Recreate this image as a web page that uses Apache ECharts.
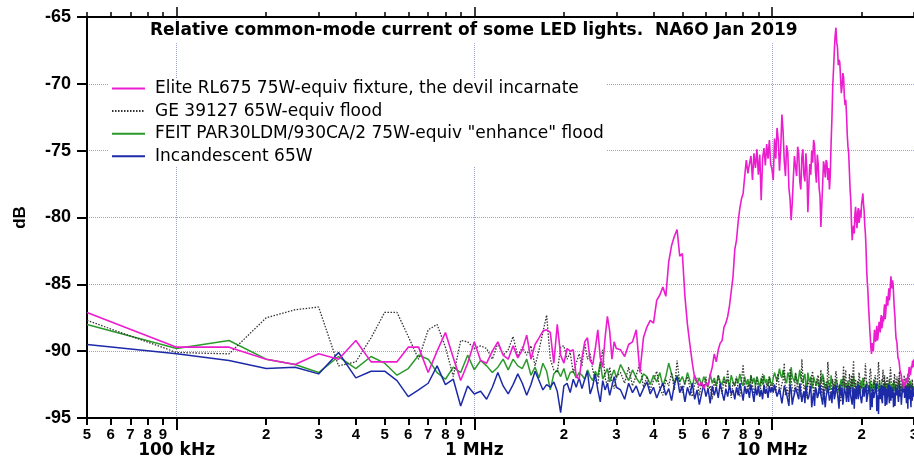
<!DOCTYPE html>
<html><head><meta charset="utf-8">
<script src="https://cdn.jsdelivr.net/npm/echarts@6/dist/echarts.min.js"></script>
<style>html,body{margin:0;padding:0;background:#fff}#c{width:914px;height:461px}</style>
</head><body><div id="c"></div><script>
// Frequencies (MHz) of the sweep points
const freqLowMHz = [0.05,0.1,0.15,0.2,0.25,0.3,0.35,0.4,0.45,0.5,0.55,0.6,0.65,0.7,0.75,0.8,0.85,0.9,0.95,1,
1.05,1.1,1.15,1.2,1.25,1.3,1.35,1.4,1.45,1.5,1.55,1.6,1.65,1.7,1.75,1.8,1.85,1.9,1.95,2,
2.05,2.1,2.15,2.2,2.25,2.3,2.35,2.4,2.45,2.5,2.55,2.6,2.65,2.7,2.75,2.8,2.85,2.9,2.95,3];
const freqMidMHz = [3.1,3.2,3.3,3.4,3.5,3.6,3.7,3.8,3.9,4,4.1,4.2,4.3,4.4,4.5,4.6,4.7,4.8,4.9,5,
5.1,5.2,5.3,5.4,5.5,5.6,5.7,5.8,5.9,6,6.1,6.2,6.3,6.4,6.5,6.6,6.7,6.8,6.9,7,
7.1,7.2,7.3,7.4,7.5,7.6,7.7,7.8,7.9,8,8.1,8.2,8.3,8.4,8.5,8.6,8.7,8.8,8.9,9,
9.1,9.2,9.3,9.4,9.5,9.6,9.7,9.8,9.9,10];
const freqHighMHz = [10.2,10.4,10.6,10.8,11,11.2,11.4,11.6,11.8,12,12.2,12.4,12.6,12.8,13,13.2,13.4,13.6,13.8,14,
14.2,14.4,14.6,14.8,15,15.2,15.4,15.6,15.8,16,16.2,16.4,16.6,16.8,17,17.2,17.4,17.6,17.8,18,
18.2,18.4,18.6,18.8,19,19.2,19.4,19.6,19.8,20,20.2,20.4,20.6,20.8,21,21.2,21.4,21.6,21.8,22,
22.2,22.4,22.6,22.8,23,23.2,23.4,23.6,23.8,24,24.2,24.4,24.6,24.8,25,25.2,25.4,25.6,25.8,26,
26.2,26.4,26.6,26.8,27,27.2,27.4,27.6,27.8,28,28.2,28.4,28.6,28.8,29,29.2,29.4,29.6,29.8,30];
const freqHighOddMHz = [10.1,10.3,10.5,10.7,10.9,11.1,11.3,11.5,11.7,11.9,12.1,12.3,12.5,12.7,12.9,13.1,13.3,13.5,13.7,13.9,
14.1,14.3,14.5,14.7,14.9,15.1,15.3,15.5,15.7,15.9,16.1,16.3,16.5,16.7,16.9,17.1,17.3,17.5,17.7,17.9,
18.1,18.3,18.5,18.7,18.9,19.1,19.3,19.5,19.7,19.9,20.1,20.3,20.5,20.7,20.9,21.1,21.3,21.5,21.7,21.9,
22.1,22.3,22.5,22.7,22.9,23.1,23.3,23.5,23.7,23.9,24.1,24.3,24.5,24.7,24.9,25.1,25.3,25.5,25.7,25.9,
26.1,26.3,26.5,26.7,26.9,27.1,27.3,27.5,27.7,27.9,28.1,28.3,28.5,28.7,28.9,29.1,29.3,29.5,29.7,29.9];

// Elite RL675 (dB)
const eliteLow = [-87.1,-89.7,-89.7,-90.6,-91.0,-90.2,-90.6,-89.2,-90.8,-90.8,-90.8,-89.7,-89.7,-91.6,-90.0,-88.6,-90.5,-92.2,-90.9,-89.3,
-90.7,-90.9,-90.0,-89.3,-90.3,-90.6,-89.6,-90.5,-89.9,-88.8,-90.6,-89.5,-89.0,-88.5,-88.4,-88.6,-90.9,-88.0,-90.3,-90.9,
-89.8,-90.0,-89.9,-91.9,-92.1,-90.5,-89.3,-89.0,-90.7,-91.0,-89.8,-88.4,-90.5,-91.2,-89.0,-87.4,-88.5,-90.6,-89.3,-89.8];
const eliteMid = [-89.9,-90.4,-89.5,-89.3,-88.4,-91.6,-89.0,-88.2,-87.7,-87.9,
-86.2,-85.8,-85.2,-85.9,-83.3,-82.1,-81.4,-80.9,-82.9,-82.7,
-85.9,-88.0,-89.5,-90.9,-92.0,-92.2,-92.6,-92.3,-92.8,-92.4,
-92.6,-91.8,-91.2,-90.2,-90.8,-89.9,-89.4,-89.2,-88.2,-87.9,
-87.4,-86.6,-85.5,-84.4,-82.4,-81.7,-80.3,-79.3,-78.6,-78.2,
-76.9,-75.7,-76.7,-76.0,-75.4,-77.2,-75.2,-76.3,-74.9,-76.8,
-75.3,-78.7,-75.6,-74.8,-76.1,-74.5,-75.6,-74.2,-76.0,-76.4];
const eliteHigh = [-74.1,-73.3,-76.5,-72.3,-75.8,-74.6,-77.8,-80.2,-77.0,-76.2,
-74.7,-77.3,-75.5,-76.8,-75.2,-79.6,-76.0,-75.0,-74.2,-76.5,
-75.3,-77.8,-80.7,-77.5,-76.2,-75.7,-77.2,-77.9,-74.4,-70.2,
-67.5,-65.8,-67.3,-68.2,-69.6,-70.2,-69.5,-71.6,-72.3,-74.7,
-76.5,-78.7,-81.7,-80.6,-79.7,-80.3,-79.6,-80.4,-79.4,-79.0,
-78.2,-79.5,-81.2,-83.9,-85.5,-87.4,-89.0,-90.2,-89.6,-89.2,
-88.8,-88.6,-89.2,-88.4,-88.2,-87.6,-88.3,-87.4,-86.9,-87.6,
-86.6,-86.1,-85.8,-86.2,-85.0,-84.9,-84.7,-85.6,-87.0,-88.4,
-89.2,-90.0,-90.6,-91.0,-91.3,-91.8,-92.2,-92.5,-92.3,-92.6,
-92.0,-92.2,-91.7,-91.5,-91.4,-91.8,-91.1,-90.9,-91.2,-90.6];
const eliteHighOdd = [-77.2,-75.6,-74.2,-74.8,-73.6,-76.9,-75.1,-78.6,-78.9,-75.4,
-76.9,-75.2,-77.9,-74.9,-77.3,-76.4,-77.6,-76.8,-75.9,-74.6,
-77.4,-76.0,-78.4,-79.1,-75.8,-77.0,-75.9,-76.3,-76.8,-72.6,
-68.9,-66.4,-66.9,-68.6,-68.4,-70.7,-69.2,-70.9,-71.2,-73.8,
-75.2,-77.9,-80.5,-80.9,-81.2,-79.2,-80.8,-79.3,-80.1,-80.0,
-78.6,-79.0,-80.6,-82.3,-84.8,-86.6,-88.3,-89.8,-89.4,-90.0,
-88.4,-89.3,-88.1,-89.0,-87.8,-88.6,-87.3,-88.0,-87.8,-86.5,
-87.2,-85.9,-86.6,-85.3,-85.8,-84.4,-85.3,-84.9,-86.4,-87.5,
-89.0,-89.4,-90.5,-90.7,-91.4,-91.5,-92.3,-92.1,-92.8,-92.2,
-92.5,-91.9,-92.4,-91.9,-91.2,-91.6,-91.4,-91.3,-90.7,-91.0];

// GE 39127 (dB)
const geLow = [-87.7,-90.1,-90.2,-87.5,-86.9,-86.7,-91.1,-90.8,-89.0,-87.1,-87.1,-88.9,-90.6,-88.4,-88.0,-89.7,-91.9,-89.2,-89.3,-89.8,
-89.6,-89.8,-90.6,-89.4,-90.3,-89.9,-88.9,-90.4,-89.7,-90.3,-89.6,-91.1,-89.9,-88.6,-87.3,-90.6,-91.4,-91.6,-89.7,-89.6,
-90.6,-90.1,-91.6,-90.9,-90.2,-91.1,-89.4,-90.6,-90.2,-91.4,-92.1,-92.5,-91.0,-89.9,-92.0,-92.6,-91.2,-92.3,-92.8,-91.9];
const geMid = [-91.6,-92.4,-91.2,-92.6,-91.8,-90.9,-92.7,-91.9,-92.9,-92.2,
-91.5,-92.8,-93.3,-92.1,-92.6,-91.6,-92.9,-90.7,-92.4,-93.1,
-92.3,-91.9,-92.7,-93.4,-92.5,-92.0,-93.3,-92.4,-92.8,-91.9,
-93.0,-92.6,-93.6,-92.2,-92.9,-91.8,-92.5,-93.2,-92.1,-92.7,
-91.4,-92.8,-93.5,-92.3,-92.6,-91.9,-92.9,-93.4,-92.2,-91.0,
-92.7,-93.1,-92.4,-92.9,-91.8,-92.5,-93.3,-92.6,-92.0,-92.8,
-93.4,-92.3,-91.7,-92.9,-93.2,-92.4,-92.8,-91.9,-92.6,-93.0];
const geHigh = [-92.8,-91.9,-93.2,-92.4,-90.9,-92.7,-93.4,-92.1,-92.9,-91.6,
-93.1,-92.5,-90.6,-92.8,-93.5,-92.2,-92.9,-91.8,-93.3,-92.6,
-92.0,-93.2,-91.4,-92.7,-93.6,-92.3,-90.8,-92.9,-93.4,-92.1,
-92.8,-91.5,-93.2,-92.6,-93.8,-92.4,-91.1,-92.9,-93.3,-92.5,
-91.7,-93.0,-92.6,-90.7,-92.8,-93.5,-92.2,-91.6,-93.1,-92.7,
-93.4,-92.0,-90.9,-92.6,-93.2,-92.4,-91.3,-92.9,-93.6,-92.3,
-91.8,-93.1,-92.5,-90.8,-92.7,-93.3,-92.1,-91.4,-92.9,-93.5,
-92.4,-91.9,-93.0,-92.6,-91.2,-92.8,-93.4,-92.2,-91.7,-93.1,
-92.5,-93.3,-92.0,-91.5,-92.8,-93.6,-92.3,-92.9,-91.8,-93.2,
-92.6,-93.0,-92.2,-91.6,-92.9,-93.4,-92.5,-92.1,-93.1,-92.7];
const geHighOdd = [-92.4,-93.1,-91.7,-92.9,-92.2,-93.3,-92.6,-91.3,-92.8,-93.2,
-92.1,-92.7,-93.4,-91.9,-92.6,-93.1,-92.4,-92.9,-91.5,-93.0,
-92.7,-91.8,-92.9,-93.3,-92.0,-92.6,-93.1,-91.6,-92.8,-92.4,
-93.2,-92.1,-91.9,-93.0,-92.5,-93.4,-92.2,-92.8,-91.4,-92.9,
-93.2,-92.3,-91.8,-92.7,-93.3,-92.1,-92.9,-93.0,-91.9,-92.6,
-92.8,-93.5,-92.2,-91.7,-92.9,-93.1,-92.4,-91.6,-92.8,-93.2,
-92.5,-92.0,-93.3,-92.6,-91.5,-92.9,-93.1,-92.3,-92.7,-91.8,
-93.0,-92.5,-92.2,-93.4,-92.7,-91.6,-92.9,-93.2,-92.4,-92.0,
-92.8,-91.9,-93.3,-92.5,-92.1,-92.9,-93.5,-92.4,-92.7,-91.7,
-93.0,-92.6,-92.3,-92.9,-91.8,-93.2,-92.5,-92.8,-92.2,-93.0];

// FEIT PAR30LDM (dB)
const feitLow = [-88.0,-89.8,-89.2,-90.6,-91.0,-91.6,-90.4,-91.3,-90.4,-90.9,-91.8,-91.3,-90.3,-90.6,-91.6,-92.1,-91.2,-91.6,-90.3,-91.4,
-90.7,-91.1,-91.6,-91.2,-90.6,-91.4,-90.6,-91.1,-91.3,-90.6,-91.8,-91.2,-92.0,-90.9,-91.5,-92.9,-91.7,-91.4,-91.9,-91.3,
-92.2,-91.6,-91.5,-92.0,-91.6,-91.8,-92.1,-91.4,-91.9,-92.2,-91.5,-91.9,-90.8,-92.1,-91.7,-91.3,-92.3,-91.8,-91.4,-92.0];
const feitMid = [-91.0,-91.6,-92.2,-91.4,-92.0,-92.4,-91.7,-91.9,-92.5,-91.8,
-92.3,-91.6,-92.6,-91.9,-90.9,-91.7,-92.4,-91.8,-92.3,-91.9,
-92.5,-91.6,-92.2,-92.7,-91.8,-92.4,-92.0,-92.6,-91.9,-92.3,
-92.7,-91.7,-92.4,-92.0,-92.6,-91.8,-92.3,-92.5,-91.9,-92.4,
-92.1,-92.7,-91.8,-92.3,-92.6,-92.0,-92.4,-91.7,-92.3,-92.6,
-91.9,-92.5,-92.1,-92.7,-91.8,-92.4,-92.0,-92.6,-91.9,-92.3,
-92.7,-92.0,-92.5,-91.8,-92.4,-92.1,-92.6,-91.9,-92.3,-92.6];
const feitHigh = [-91.6,-92.3,-91.3,-92.0,-91.5,-92.4,-91.8,-91.2,-92.1,-91.7,
-92.5,-91.4,-92.2,-91.9,-92.6,-91.6,-92.3,-92.8,-91.9,-92.4,
-92.1,-92.7,-92.0,-91.7,-92.5,-92.9,-92.2,-92.6,-91.8,-92.4,
-92.8,-92.1,-92.5,-93.0,-92.3,-92.7,-91.9,-92.4,-92.8,-92.2,
-92.6,-93.1,-92.4,-91.8,-92.5,-92.9,-92.3,-92.7,-93.2,-92.4,
-92.0,-92.6,-92.9,-92.3,-92.7,-93.0,-92.2,-92.5,-92.8,-92.1,
-92.6,-93.1,-92.4,-92.8,-92.2,-92.6,-93.3,-92.5,-92.9,-92.3,
-92.7,-93.0,-92.4,-92.1,-92.8,-93.2,-92.6,-92.9,-92.3,-92.7,
-93.1,-92.5,-92.8,-92.2,-92.6,-93.0,-92.4,-92.9,-92.6,-92.3,
-92.8,-92.5,-93.1,-92.4,-92.7,-92.2,-92.9,-92.5,-92.8,-92.6];
const feitHighOdd = [-92.0,-91.5,-92.4,-91.8,-91.4,-92.2,-91.6,-92.5,-91.9,-92.3,
-91.8,-92.6,-92.0,-92.4,-91.7,-92.8,-92.1,-91.9,-92.6,-92.2,
-92.6,-92.2,-92.8,-92.3,-92.0,-92.7,-92.4,-92.1,-92.9,-92.3,
-92.5,-92.9,-92.2,-92.6,-92.8,-92.1,-92.6,-93.0,-92.4,-92.7,
-92.9,-92.5,-92.1,-92.8,-92.3,-92.6,-93.1,-92.4,-92.8,-92.2,
-92.7,-92.3,-92.6,-93.0,-92.4,-92.8,-92.6,-93.1,-92.4,-92.7,
-92.9,-92.5,-92.7,-92.3,-93.0,-92.8,-92.5,-92.7,-93.1,-92.6,
-92.9,-92.4,-92.7,-92.9,-92.5,-92.6,-93.0,-92.4,-92.8,-93.0,
-92.6,-92.9,-92.4,-92.7,-93.1,-92.5,-92.8,-92.6,-93.0,-92.7,
-92.5,-92.9,-92.6,-92.8,-92.3,-92.7,-92.6,-93.0,-92.4,-92.7];

// Incandescent 65W (dB)
const incLow = [-89.5,-90.2,-90.7,-91.3,-91.2,-91.7,-90.1,-92.0,-91.5,-91.5,-92.2,-93.4,-92.9,-92.4,-91.1,-92.5,-92.1,-94.1,-92.6,-93.2,
-93.0,-93.6,-92.7,-91.6,-92.6,-93.2,-92.5,-91.7,-92.4,-93.3,-92.5,-91.5,-92.2,-92.9,-92.5,-92.7,-92.3,-93.0,-94.6,-92.6,
-92.4,-93.1,-92.1,-92.7,-92.0,-92.8,-92.1,-91.5,-93.2,-92.6,-91.7,-92.9,-93.8,-92.2,-92.9,-92.4,-93.3,-92.6,-91.9,-92.7];
const incMid = [-92.9,-93.6,-92.4,-93.1,-92.6,-93.4,-92.8,-92.3,-93.2,-92.7,
-93.5,-92.9,-92.4,-93.3,-92.8,-93.7,-92.5,-91.9,-93.1,-92.6,
-93.8,-92.7,-93.3,-92.4,-93.6,-92.9,-94.0,-93.2,-92.5,-93.4,
-92.8,-93.9,-92.6,-93.3,-92.7,-93.5,-92.4,-93.1,-93.7,-92.8,
-93.4,-92.5,-93.2,-92.9,-93.6,-92.7,-93.3,-92.4,-93.0,-93.7,
-92.6,-93.2,-92.8,-93.5,-92.5,-93.1,-93.8,-92.7,-93.3,-92.6,
-93.4,-92.9,-93.6,-92.5,-93.2,-92.8,-93.5,-92.6,-93.1,-92.7];
const incHigh = [-92.5,-93.4,-92.8,-93.9,-92.6,-93.2,-94.1,-92.9,-93.5,-92.7,
-93.3,-92.4,-93.8,-93.0,-92.6,-93.6,-92.9,-94.2,-93.1,-92.7,
-93.5,-92.8,-93.3,-94.0,-92.9,-93.4,-92.6,-93.7,-93.1,-92.8,
-93.6,-92.5,-93.2,-94.3,-93.0,-92.7,-93.5,-92.9,-93.8,-93.2,
-92.6,-93.4,-94.0,-93.1,-92.8,-93.6,-93.0,-92.5,-93.3,-93.9,
-92.9,-93.4,-92.7,-93.8,-93.2,-92.6,-94.4,-93.1,-92.8,-93.5,
-93.0,-92.4,-93.6,-94.7,-93.1,-92.9,-93.7,-92.6,-93.3,-94.1,
-92.8,-93.4,-92.5,-93.9,-93.0,-92.7,-93.5,-94.2,-93.1,-92.6,
-93.3,-92.9,-93.8,-92.5,-93.4,-94.0,-92.8,-93.2,-92.6,-93.6,
-93.1,-92.7,-94.3,-93.0,-92.5,-93.4,-92.9,-93.7,-92.6,-93.2];
const incHighOdd = [-93.1,-92.6,-93.5,-92.9,-93.8,-92.7,-93.3,-92.5,-94.0,-93.2,
-92.8,-93.6,-92.4,-93.3,-93.9,-92.7,-93.4,-92.6,-93.5,-94.1,
-92.9,-93.3,-92.5,-93.6,-92.8,-94.2,-93.1,-92.7,-93.4,-93.9,
-92.6,-93.3,-92.9,-93.7,-92.5,-93.4,-94.0,-92.8,-93.2,-92.6,
-93.8,-92.9,-93.5,-92.7,-94.3,-93.1,-92.6,-93.6,-92.9,-93.3,
-94.0,-92.7,-93.4,-92.5,-93.8,-93.0,-92.8,-93.5,-94.2,-92.9,
-93.2,-92.6,-94.5,-93.3,-92.8,-93.6,-92.5,-93.9,-93.1,-92.7,
-93.5,-94.0,-92.9,-93.3,-92.6,-93.7,-93.0,-92.8,-93.6,-94.1,
-92.7,-93.4,-92.9,-93.8,-92.6,-93.2,-94.0,-93.1,-92.8,-93.5,
-92.6,-93.9,-93.2,-92.7,-93.6,-92.9,-94.2,-93.0,-92.7,-93.4];

// Axis ticks
const minorTicksMHz = [0.05,0.06,0.07,0.08,0.09,0.2,0.3,0.4,0.5,0.6,0.7,0.8,0.9,2,3,4,5,6,7,8,9,20,30];
const minorTickLabels = ['5','6','7','8','9','2','3','4','5','6','7','8','9','2','3','4','5','6','7','8','9','2','3'];
const decadeTicksMHz = [0.1,1,10];
const decadeTickLabels = ['100 kHz','1 MHz','10 MHz'];
const yMin = -95, yMax = -65, yStep = 5;

const seriesNames = ['Elite RL675 75W-equiv fixture, the devil incarnate','GE 39127 65W-equiv flood','FEIT PAR30LDM/930CA/2 75W-equiv "enhance" flood','Incandescent 65W'];

function pairs(fs, vs){ return fs.map((f,i)=>[f, vs[i]]); }
function build(a,b,c,d){
  return pairs(freqLowMHz,a).concat(pairs(freqMidMHz,b), pairs(freqHighMHz,c), pairs(freqHighOddMHz,d))
    .sort((p,q)=>p[0]-q[0]);
}
function labelFor(ticks, labels){
  return function(v){ let best=0, bd=1e9; ticks.forEach((t,i)=>{const d=Math.abs(Math.log(v/t)); if(d<bd){bd=d;best=i;}}); return labels[best]; };
}

const FONT = '"Liberation Sans", Arial, Helvetica, sans-serif';
const WIDE = '"DejaVu Sans", "Liberation Sans", sans-serif';
const chart = echarts.init(document.getElementById('c'));
const logRange = {type:'log', logBase:10, min:0.05, max:30};

chart.setOption({
  animation:false,
  backgroundColor:'#fff',
  textStyle:{fontFamily:FONT},
  grid:{left:87, right:0, top:17, bottom:43, containLabel:false, outerBoundsMode:'none'},
  title:{text:'Relative common-mode current of some LED lights.  NA6O Jan 2019', left:146, top:20,
    padding:[2,4,3,4], backgroundColor:'#fff',
    textStyle:{fontFamily:WIDE, fontSize:17, fontWeight:'bold', color:'#000'}},
  legend:{orient:'vertical', left:108, top:78, itemWidth:33, itemHeight:12, itemGap:5.6,
    padding:[2,3,2,3], backgroundColor:'#fff',
    itemStyle:{opacity:0},
    data:seriesNames,
    textStyle:{fontFamily:WIDE, fontSize:17, lineHeight:17, color:'#000', padding:[0,0,0,5]}},
  xAxis:[
    Object.assign({position:'bottom', axisLine:{show:true, onZero:false, lineStyle:{color:'#000', width:2}},
      axisTick:{show:true, customValues:minorTicksMHz, length:7, lineStyle:{color:'#000', width:2}},
      axisLabel:{customValues:minorTicksMHz, formatter:labelFor(minorTicksMHz, minorTickLabels), margin:9,
        fontFamily:FONT, fontSize:15, fontWeight:'bold', color:'#000'},
      splitLine:{show:false}, minorTick:{show:false}}, logRange),
    Object.assign({position:'bottom', axisLine:{show:false, onZero:false},
      axisTick:{show:true, customValues:decadeTicksMHz, length:12, lineStyle:{color:'#000', width:2}},
      axisLabel:{customValues:decadeTicksMHz, formatter:labelFor(decadeTicksMHz, decadeTickLabels), margin:24,
        fontFamily:WIDE, fontSize:17, fontWeight:'bold', color:'#000'},
      splitLine:{show:true, lineStyle:{type:'dotted', color:'#9ea4c6', width:1}}, minorTick:{show:false}}, logRange),
    Object.assign({position:'top', axisLine:{show:true, onZero:false, lineStyle:{color:'#000', width:2}},
      axisTick:{show:true, customValues:minorTicksMHz, length:5, lineStyle:{color:'#000', width:1.5}},
      axisLabel:{show:false}, splitLine:{show:false}, minorTick:{show:false}}, logRange),
    Object.assign({position:'top', axisLine:{show:false, onZero:false},
      axisTick:{show:true, customValues:decadeTicksMHz, length:10, lineStyle:{color:'#000', width:1.5}},
      axisLabel:{show:false}, splitLine:{show:false}, minorTick:{show:false}}, logRange)
  ],
  yAxis:[
    {type:'value', min:yMin, max:yMax, interval:yStep, position:'left',
      name:'dB', nameLocation:'middle', nameRotate:90, nameGap:58,
      nameTextStyle:{fontFamily:FONT, fontSize:17, fontWeight:'bold', color:'#000'},
      axisLine:{show:true, onZero:false, lineStyle:{color:'#000', width:2}},
      axisTick:{show:true, length:10, lineStyle:{color:'#000', width:2}},
      axisLabel:{margin:16, fontFamily:FONT, fontSize:18, fontWeight:'bold', color:'#000'},
      splitLine:{show:true, lineStyle:{type:'dotted', color:'#9ea4c6', width:1}}},
    {type:'value', min:yMin, max:yMax, position:'right',
      axisLine:{show:true, onZero:false, lineStyle:{color:'#9a9a9a', width:1}},
      axisTick:{show:false}, axisLabel:{show:false}, splitLine:{show:false}}
  ],
  series:[
    {name:seriesNames[2], type:'line', symbol:'none', data:build(feitLow, feitMid, feitHigh, feitHighOdd),
      lineStyle:{color:'#2b9a2b', width:1.5}, itemStyle:{color:'#2b9a2b'}},
    {name:seriesNames[1], type:'line', symbol:'none', data:build(geLow, geMid, geHigh, geHighOdd),
      lineStyle:{color:'#333', width:1.3, type:[1.5,1.5]}, itemStyle:{color:'#333'}},
    {name:seriesNames[3], type:'line', symbol:'none', data:build(incLow, incMid, incHigh, incHighOdd),
      lineStyle:{color:'#1c2aa8', width:1.5}, itemStyle:{color:'#1c2aa8'}},
    {name:seriesNames[0], type:'line', symbol:'none', data:build(eliteLow, eliteMid, eliteHigh, eliteHighOdd),
      lineStyle:{color:'#ec1ccf', width:1.6}, itemStyle:{color:'#ec1ccf'}}
  ]
});
</script></body></html>
